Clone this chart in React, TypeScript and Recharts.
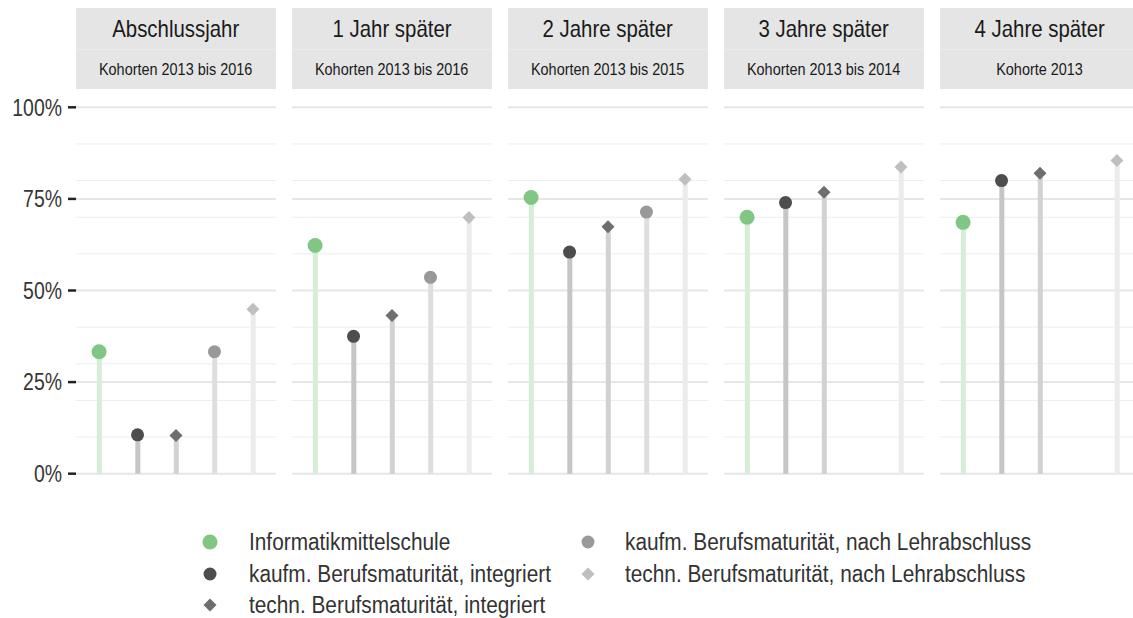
import { ComposedChart, Bar, Scatter, XAxis, YAxis, CartesianGrid, Cell } from "recharts";

const FONT = "'Liberation Sans Narrow', 'Liberation Sans', Arial, sans-serif";

// data
const categories = [
  "Informatikmittelschule",
  "kaufm. Berufsmaturität, integriert",
  "techn. Berufsmaturität, integriert",
  "kaufm. Berufsmaturität, nach Lehrabschluss",
  "techn. Berufsmaturität, nach Lehrabschluss",
];
const facetTitles = ["Abschlussjahr", "1 Jahr später", "2 Jahre später", "3 Jahre später", "4 Jahre später"];
const facetSubtitles = [
  "Kohorten 2013 bis 2016",
  "Kohorten 2013 bis 2016",
  "Kohorten 2013 bis 2015",
  "Kohorten 2013 bis 2014",
  "Kohorte 2013",
];
// one value per facet, in percent
const informatik = [33.3, 62.3, 75.4, 70.0, 68.6];
const kaufmIntegriert = [10.6, 37.5, 60.5, 74.0, 80.0];
const technIntegriert = [10.4, 43.2, 67.4, 76.8, 82.0];
const kaufmNachLehre: (number | null)[] = [33.3, 53.6, 71.4, null, null];
const technNachLehre = [44.9, 69.9, 80.4, 83.7, 85.5];
const seriesValues = [informatik, kaufmIntegriert, technIntegriert, kaufmNachLehre, technNachLehre];

const majorTicks = [0, 25, 50, 75, 100];
const minorTicks = [10, 20, 30, 40, 60, 70, 80, 90];

// styling
type Marker = { point: string; stem: string; shape: "circle" | "diamond"; r: number };
const markers: Marker[] = [
  { point: "#80c783", stem: "#d6edd7", shape: "circle", r: 7.5 },
  { point: "#4d4d4d", stem: "#c6c6c6", shape: "circle", r: 6.5 },
  { point: "#6e6e6e", stem: "#d2d2d2", shape: "diamond", r: 6.5 },
  { point: "#999999", stem: "#dedede", shape: "circle", r: 6.5 },
  { point: "#bfbfbf", stem: "#ebebeb", shape: "diamond", r: 6.5 },
];

const PANEL_LEFT = 76;
const PANEL_W = 200;
const GAP = 16;
const STRIP_TOP = 8;
const PLOT_TOP = 89;
const PLOT_H = 403;

// the reference uses a condensed face; squeeze the regular one
function Narrow({ k, origin, children }: { k: number; origin: string; children: any }) {
  return (
    <span style={{ display: "inline-block", transform: `scaleX(${k})`, transformOrigin: origin, whiteSpace: "nowrap" }}>
      {children}
    </span>
  );
}

function MarkerShape({ m, cx, cy }: { m: Marker; cx: number; cy: number }) {
  if (m.shape === "circle") return <circle cx={cx} cy={cy} r={m.r} fill={m.point} />;
  const s = m.r;
  return <polygon points={`${cx},${cy - s} ${cx + s},${cy} ${cx},${cy + s} ${cx - s},${cy}`} fill={m.point} />;
}

function YTick(props: any) {
  const { x, y, payload } = props;
  return (
    <text
      transform={`translate(${x},${y}) scale(0.81,1)`}
      textAnchor="end"
      dominantBaseline="central"
      fill="#363636"
      fontSize={24}
      fontFamily={FONT}
    >
      {`${payload.value}%`}
    </text>
  );
}

function Strip({ index }: { index: number }) {
  const left = PANEL_LEFT + index * (PANEL_W + GAP);
  return (
    <div style={{ position: "absolute", left, top: STRIP_TOP, width: PANEL_W, color: "#1a1a1a" }}>
      <div style={{ height: 41, lineHeight: "41px", background: "#e5e5e5", textAlign: "center", fontSize: 24 }}>
        <Narrow k={0.85} origin="center">{facetTitles[index]}</Narrow>
      </div>
      <div style={{ height: 1, background: "#ececec" }} />
      <div style={{ height: 39, lineHeight: "39px", background: "#e5e5e5", textAlign: "center", fontSize: 16.5 }}>
        <Narrow k={0.875} origin="center">{facetSubtitles[index]}</Narrow>
      </div>
    </div>
  );
}

function Facet({ index }: { index: number }) {
  const data = categories.map((c, k) => ({ key: c, value: seriesValues[k][index] }));
  const withAxis = index === 0;
  const left = withAxis ? 0 : PANEL_LEFT + index * (PANEL_W + GAP);
  const width = withAxis ? PANEL_LEFT + PANEL_W : PANEL_W;
  return (
    <div style={{ position: "absolute", left, top: PLOT_TOP }}>
      <ComposedChart width={width} height={PLOT_H} data={data} margin={{ top: 0, right: 0, bottom: 0, left: 0 }}>
        <CartesianGrid vertical={false} horizontalValues={minorTicks} stroke="#ededed" strokeWidth={1} />
        <CartesianGrid vertical={false} horizontalValues={majorTicks} stroke="#e6e6e6" strokeWidth={2} />
        <XAxis dataKey="key" type="category" hide padding={{ left: 3.85, right: 3.85 }} />
        <YAxis
          type="number"
          domain={[-5, 105]}
          ticks={majorTicks}
          interval={0}
          allowDataOverflow
          hide={!withAxis}
          width={PANEL_LEFT}
          axisLine={false}
          tickLine={{ stroke: "#222222", strokeWidth: 2.5 }}
          tickSize={8}
          tickMargin={6}
          tick={<YTick />}
        />
        <Bar dataKey="value" barSize={5} isAnimationActive={false}>
          {data.map((d, k) => (
            <Cell key={d.key} fill={markers[k].stem} />
          ))}
        </Bar>
        <Scatter
          dataKey="value"
          isAnimationActive={false}
          shape={(p: any) => {
            const k = categories.indexOf(p.payload?.key);
            if (p.payload?.value == null || k < 0) return <g />;
            return <MarkerShape m={markers[k]} cx={p.cx} cy={p.cy} />;
          }}
        />
      </ComposedChart>
    </div>
  );
}

function LegendBlock() {
  return (
    <div style={{ position: "absolute", left: 0, top: 0, color: "#333333", fontSize: 23 }}>
      {categories.map((c, k) => {
        const col = k < 3 ? 0 : 1;
        const row = k < 3 ? k : k - 3;
        const symX = col === 0 ? 210 : 588;
        const textX = col === 0 ? 249 : 625;
        const cy = 542 + row * 31.5;
        return (
          <div key={c}>
            <svg style={{ position: "absolute", left: symX - 10, top: cy - 10 }} width={20} height={20}>
              <MarkerShape m={markers[k]} cx={10} cy={10} />
            </svg>
            <div style={{ position: "absolute", left: textX, top: cy - 15, height: 30, lineHeight: "30px" }}>
              <Narrow k={0.905} origin="left">{c}</Narrow>
            </div>
          </div>
        );
      })}
    </div>
  );
}

export default function App() {
  return (
    <div
      style={{
        position: "absolute",
        left: 0,
        top: 0,
        width: 1133,
        height: 618,
        overflow: "hidden",
        background: "#ffffff",
        fontFamily: FONT,
      }}
    >
      {facetTitles.map((t, i) => (
        <Strip key={t} index={i} />
      ))}
      {facetTitles.map((t, i) => (
        <Facet key={t} index={i} />
      ))}
      <LegendBlock />
    </div>
  );
}
